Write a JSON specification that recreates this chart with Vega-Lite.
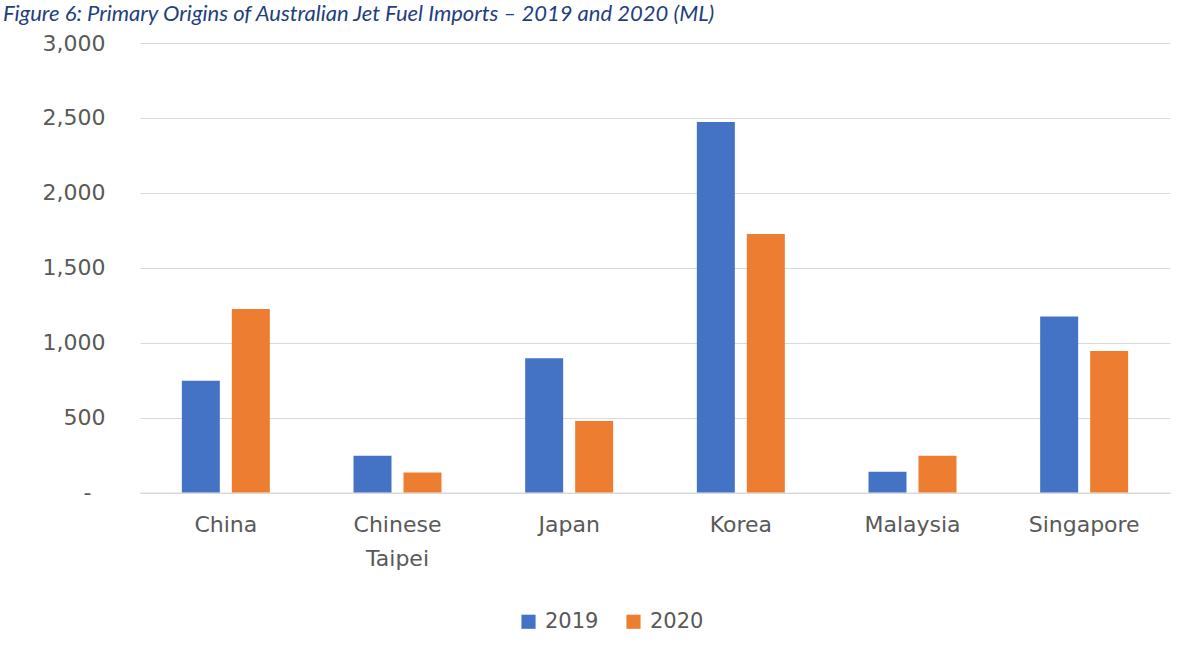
{
  "$schema": "https://vega.github.io/schema/vega-lite/v6.json",
  "autosize": {"type": "none"},
  "width": 1030,
  "height": 449.5,
  "padding": {"left": 140, "top": 43, "right": 22, "bottom": 166.5},
  "background": "white",
  "title": {
    "text": "Figure 6: Primary Origins of Australian Jet Fuel Imports \u2013 2019 and 2020 (ML)",
    "anchor": "start",
    "frame": "group",
    "orient": "top",
    "font": "Lato",
    "fontStyle": "italic",
    "fontWeight": "normal",
    "fontSize": 22,
    "color": "#1F3F7F",
    "baseline": "alphabetic",
    "offset": 0,
    "dx": -137,
    "dy": 11
  },
  "data": {
    "values": [
      {"country": "China", "year": "2019", "value": 746},
      {"country": "China", "year": "2020", "value": 1225},
      {"country": "Chinese Taipei", "year": "2019", "value": 245},
      {"country": "Chinese Taipei", "year": "2020", "value": 134},
      {"country": "Japan", "year": "2019", "value": 896},
      {"country": "Japan", "year": "2020", "value": 477},
      {"country": "Korea", "year": "2019", "value": 2472},
      {"country": "Korea", "year": "2020", "value": 1726},
      {"country": "Malaysia", "year": "2019", "value": 139},
      {"country": "Malaysia", "year": "2020", "value": 246},
      {"country": "Singapore", "year": "2019", "value": 1175},
      {"country": "Singapore", "year": "2020", "value": 944}
    ]
  },
  "mark": {"type": "bar"},
  "encoding": {
    "x": {
      "field": "country",
      "type": "nominal",
      "sort": null,
      "scale": {"paddingInner": 0, "paddingOuter": 0},
      "axis": {
        "title": null,
        "labelAngle": 0,
        "labelFont": "DejaVu Sans",
        "labelFontSize": 22,
        "labelColor": "#595959",
        "labelPadding": 22,
        "labelLineHeight": 34,
        "labelExpr": "datum.label == 'Chinese Taipei' ? ['Chinese', 'Taipei'] : datum.label",
        "ticks": false,
        "tickSize": 0,
        "domain": true,
        "domainColor": "#d9d9d9",
        "domainWidth": 1.2,
        "grid": false
      }
    },
    "xOffset": {
      "field": "year",
      "type": "nominal",
      "scale": {"paddingInner": 0.24, "paddingOuter": 0.837}
    },
    "y": {
      "field": "value",
      "type": "quantitative",
      "scale": {"domain": [0, 3000], "nice": false},
      "axis": {
        "title": null,
        "values": [0, 500, 1000, 1500, 2000, 2500, 3000],
        "labelExpr": "datum.value == 0 ? '-' : format(datum.value, ',')",
        "labelFont": "DejaVu Sans",
        "labelFontSize": 22,
        "labelColor": "#595959",
        "labelPadding": {"condition": {"test": "datum.value == 0", "value": 49}, "value": 35},
        "ticks": false,
        "tickSize": 0,
        "domain": false,
        "grid": true,
        "gridColor": "#d9d9d9",
        "gridWidth": 1.2
      }
    },
    "color": {
      "field": "year",
      "type": "nominal",
      "scale": {"domain": ["2019", "2020"], "range": ["#4472C4", "#ED7D31"]},
      "legend": {
        "title": null,
        "orient": "none",
        "direction": "horizontal",
        "legendX": 378,
        "legendY": 568,
        "symbolType": "square",
        "symbolSize": 200,
        "symbolStrokeWidth": 0,
        "labelFont": "DejaVu Sans",
        "labelFontSize": 21,
        "labelColor": "#595959",
        "labelOffset": 6,
        "columnPadding": 24,
        "padding": 0
      }
    }
  },
  "config": {
    "view": {"stroke": null}
  }
}
